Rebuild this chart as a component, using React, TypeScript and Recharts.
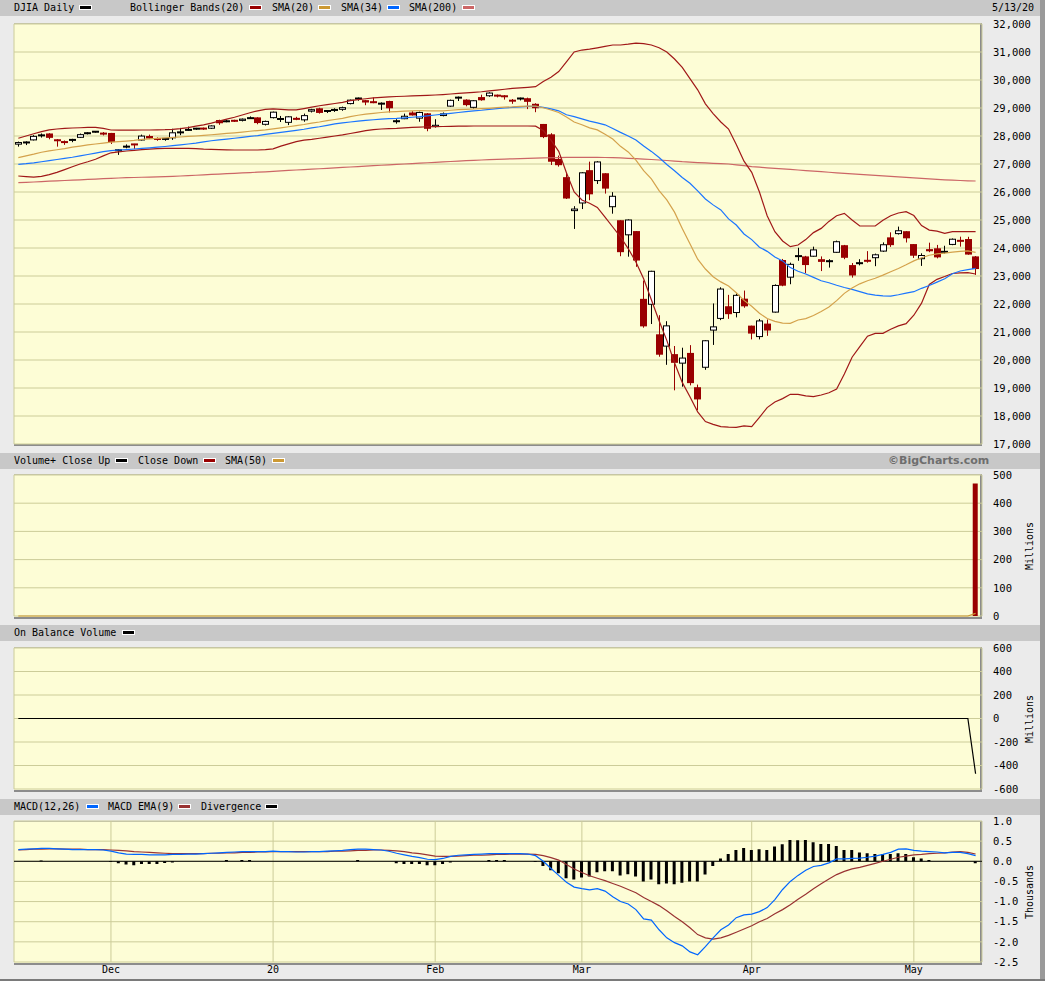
import React from "react";
import { ComposedChart, Bar, Line, XAxis, YAxis, CartesianGrid, ReferenceLine } from "recharts";

// DJIA daily, 11/13/19 .. 5/13/20 (index 0..124)
const opens = [
  27691, 27757, 27843, 28010, 28090, 27875, 27800, 27845, 27935, 28077,
  28140, 28120, 28109, 27480, 27590, 27720, 27840, 28000, 27905, 27880,
  27918, 28125, 28200, 28255, 28290, 28260, 28570, 28500, 28570, 28540,
  28630, 28665, 28400, 28638, 28580, 28470, 28640, 28560, 28870, 28990,
  28880, 28920, 28935, 29140, 29330, 29280, 29230, 29150, 29250, 28520,
  28600, 28840, 28620, 28810, 28320, 28713, 29049, 29360, 29300, 29006,
  29390, 29420, 29460, 29440, 29290, 29330, 29350, 29150, 28430, 28060,
  27180, 26530, 25317, 25590, 26780, 26390, 26670, 25457, 24992, 24453,
  24604, 22184, 21973, 20918, 20478, 20210, 19870, 20253, 19028, 19723,
  21050, 21468, 21920, 21678, 22190, 21227, 20819, 21300, 21693, 23571,
  22941, 23700, 23700, 23689, 23600, 23520, 23829, 24100, 23390, 23440,
  23570, 23636, 23872, 24380, 24496, 24600, 24140, 23600, 23960, 23990,
  23850, 24110, 24290, 24320, 23700,
];
const highs = [
  27800, 27810, 28030, 28090, 28100, 27890, 27840, 27900, 28088, 28134,
  28175, 28140, 28110, 27530, 27700, 27720, 28050, 28050, 27950, 27930,
  28260, 28290, 28337, 28290, 28300, 28380, 28582, 28580, 28580, 28625,
  28700, 28670, 28550, 28872, 28716, 28708, 28685, 28800, 28970, 29010,
  28910, 28990, 29050, 29300, 29374, 29290, 29375, 29200, 29260, 28600,
  28800, 28890, 28870, 28820, 28600, 28840, 29300, 29408, 29310, 29280,
  29475, 29560, 29480, 29460, 29320, 29370, 29370, 29170, 28430, 28100,
  27300, 26700, 25494, 26706, 27084, 27102, 26671, 25994, 24992, 25020,
  24604, 22837, 23186, 21600, 21386, 20500, 20439, 20531, 19122, 20710,
  22019, 22596, 22327, 22378, 22480, 21227, 21466, 21447, 22702, 23609,
  23477, 24009, 23719, 24048, 23700, 23600, 24265, 24110, 23463, 23600,
  23888, 23800, 24200, 24560, 24764, 24600, 24140, 23810, 24190, 24110,
  24080, 24340, 24404, 24400, 23714,
];
const lows = [
  27620, 27676, 27840, 27944, 27882, 27620, 27683, 27778, 27930, 28056,
  28121, 28020, 27715, 27325, 27560, 27540, 27840, 27890, 27830, 27830,
  27860, 28030, 28190, 28220, 28220, 28250, 28400, 28490, 28500, 28520,
  28610, 28420, 28376, 28627, 28500, 28390, 28565, 28510, 28840, 28800,
  28820, 28860, 28900, 29130, 29260, 29100, 29170, 28930, 28840, 28440,
  28600, 28730, 28510, 28170, 28300, 28700, 29040, 29250, 29060, 28980,
  29260, 29400, 29380, 29300, 29150, 29270, 28960, 28850, 27924, 26964,
  26906, 25750, 24681, 25391, 25706, 26286, 25943, 25226, 23706, 23690,
  23328, 21154, 21285, 20117, 19828, 18917, 19046, 19094, 18214, 19650,
  20538, 21424, 21469, 21522, 21866, 20736, 20736, 20863, 21693, 22634,
  22706, 23544, 23099, 23689, 23176, 23300, 23829, 23600, 22942, 23380,
  23476, 23351, 23860, 24040, 24480, 24196, 23645, 23361, 23850, 23630,
  23800, 24100, 24048, 23760, 23039,
];
const closes = [
  27784, 27782, 28005, 28036, 27934, 27821, 27766, 27876, 28066, 28122,
  28164, 28051, 27783, 27503, 27650, 27678, 28015, 27910, 27882, 27911,
  28132, 28135, 28236, 28267, 28239, 28377, 28455, 28552, 28515, 28621,
  28645, 28462, 28538, 28869, 28635, 28703, 28584, 28745, 28957, 28824,
  28907, 28940, 29030, 29298, 29348, 29196, 29186, 29160, 28990, 28536,
  28723, 28734, 28859, 28256, 28400, 28808, 29291, 29380, 29103, 29277,
  29276, 29551, 29423, 29398, 29232, 29348, 29220, 28992, 27961, 27081,
  26958, 25767, 25409, 26703, 25917, 27091, 26121, 25865, 23851, 25018,
  23553, 21201, 23186, 20189, 21237, 19899, 20087, 19174, 18592, 20705,
  21201, 22552, 21637, 22327, 21917, 20944, 21413, 21053, 22680, 22654,
  23434, 23719, 23391, 23950, 23504, 23538, 24242, 23650, 23019, 23476,
  23515, 23775, 24134, 24102, 24634, 24346, 23724, 23750, 23883, 23665,
  23876, 24331, 24222, 23765, 23248,
];

const bbUpper = [
  27918, 28000, 28080, 28155, 28220, 28250, 28270, 28285, 28295, 28305,
  28310, 28270, 28214, 28210, 28210, 28212, 28214, 28215, 28218, 28225,
  28240, 28265, 28300, 28350, 28400, 28460, 28530, 28600, 28670, 28750,
  28830, 28900, 28950, 28970, 28950, 28930, 28930, 28980, 29030, 29080,
  29120, 29160, 29200, 29262, 29300, 29330, 29360, 29380, 29400, 29410,
  29420, 29430, 29440, 29450, 29464, 29480, 29500, 29520, 29540, 29560,
  29580, 29610, 29640, 29670, 29700, 29720, 29740, 29762, 29950, 30100,
  30300, 30650, 31000, 31070, 31100, 31150, 31200, 31250, 31250, 31280,
  31320, 31300, 31250, 31150, 31000, 30750, 30450, 30050, 29650, 29150,
  28800, 28500, 28250, 27700, 27100, 26700, 26000, 25150, 24583, 24250,
  24048, 24107, 24300, 24550, 24700, 24950, 25150, 25238, 25000, 24790,
  24786, 24786, 24990, 25150, 25250, 25297, 25160, 24800, 24640, 24600,
  24524, 24583, 24583, 24583, 24583,
];
const bbLower = [
  26571, 26550, 26530, 26560, 26620, 26700, 26800, 26900, 27000, 27080,
  27170, 27290, 27400, 27430, 27464, 27490, 27510, 27530, 27550, 27560,
  27560, 27560, 27560, 27550, 27530, 27520, 27510, 27505, 27500, 27500,
  27500, 27500, 27510, 27540, 27640, 27720, 27800, 27850, 27880, 27920,
  27960, 28000, 28040, 28090, 28140, 28190, 28230, 28250, 28265, 28274,
  28290, 28310, 28320, 28330, 28333, 28340, 28345, 28350, 28355, 28357,
  28357, 28357, 28357, 28357, 28357, 28357, 28357, 28350, 28200, 27850,
  27450, 26690, 26000, 25714, 25600, 25450, 25100, 24750, 24400, 23980,
  23500, 22900, 22150, 21400, 20700, 19900, 19200, 18690, 18150, 17800,
  17700, 17620, 17600, 17595, 17650, 17620, 17950, 18300, 18500, 18620,
  18774, 18770, 18720, 18690, 18750, 18830, 18960, 19500, 20100, 20476,
  20850, 20952, 20952, 21100, 21220, 21300, 21600, 22030, 22700, 22880,
  22980, 23090, 23110, 23119, 23071,
];
const sma20 = [
  27226, 27290, 27350, 27420, 27470, 27510, 27550, 27600, 27640, 27680,
  27715, 27745, 27780, 27800, 27820, 27845, 27880, 27900, 27915, 27930,
  27950, 27965, 27985, 28000, 28020, 28045, 28070, 28095, 28115, 28140,
  28170, 28195, 28220, 28254, 28290, 28330, 28370, 28410, 28460, 28500,
  28550, 28590, 28630, 28690, 28740, 28780, 28810, 28840, 28860, 28870,
  28885, 28895, 28910, 28900, 28895, 28900, 28920, 28940, 28950, 28965,
  28975, 28990, 29010, 29030, 29040, 29060, 29070, 29070, 29010, 28930,
  28840, 28680, 28500, 28400, 28290, 28219, 28060, 27890, 27630, 27430,
  27140, 26760, 26470, 26050, 25720, 25280, 24700, 24150, 23600, 23250,
  22976, 22790, 22640, 22400, 22130, 21920, 21670, 21480, 21380, 21320,
  21310, 21430, 21480, 21590, 21730, 21890, 22120, 22380, 22570, 22720,
  22830, 22920, 23030, 23150, 23270, 23400, 23540, 23650, 23740, 23790,
  23820, 23850, 23880, 23900, 23845,
];
const sma34 = [
  26988, 27010, 27040, 27080, 27120, 27160, 27200, 27240, 27290, 27340,
  27390, 27440, 27480, 27500, 27515, 27535, 27555, 27575, 27600, 27625,
  27655, 27685, 27715, 27745, 27790, 27830, 27860, 27890, 27920, 27950,
  27985, 28015, 28055, 28095, 28130, 28165, 28200, 28240, 28290, 28330,
  28380, 28430, 28470, 28500, 28530, 28555, 28580, 28600, 28620, 28631,
  28650, 28670, 28690, 28720, 28750, 28780, 28810, 28840, 28870, 28900,
  28920, 28950, 28980, 29000, 29020, 29040, 29060, 29060, 29020, 28970,
  28900, 28760, 28690, 28610, 28530, 28470, 28400, 28270, 28130, 28000,
  27860, 27640, 27450, 27230, 26980, 26760, 26520, 26310, 26040, 25750,
  25540, 25360, 25040, 24820, 24500, 24300, 24030, 23880, 23680, 23540,
  23300, 23170, 23070, 22950, 22830, 22760, 22670, 22590, 22520, 22440,
  22360, 22320, 22290, 22280, 22330, 22390, 22440, 22560, 22660, 22780,
  22900, 23080, 23180, 23230, 23274,
];
const sma200 = [
  26333, 26345, 26358, 26372, 26385, 26398, 26410, 26423, 26436, 26450,
  26462, 26475, 26488, 26500, 26510, 26518, 26526, 26534, 26542, 26550,
  26560, 26572, 26585, 26598, 26612, 26626, 26640, 26653, 26667, 26680,
  26694, 26708, 26722, 26740, 26755, 26770, 26786, 26800, 26815, 26830,
  26845, 26860, 26876, 26892, 26908, 26924, 26940, 26955, 26970, 26985,
  27000, 27015, 27030, 27045, 27060, 27075, 27090, 27105, 27118, 27130,
  27142, 27154, 27165, 27176, 27186, 27195, 27202, 27210, 27218, 27224,
  27230, 27234, 27237, 27238, 27238, 27236, 27232, 27226, 27218, 27202,
  27190, 27176, 27160, 27143, 27125, 27105, 27083, 27068, 27052, 27038,
  27025, 27012, 27000, 26970, 26940, 26905, 26885, 26865, 26845, 26825,
  26805, 26785, 26765, 26745, 26725, 26705, 26686, 26668, 26650, 26632,
  26614, 26596, 26578, 26560, 26542, 26524, 26506, 26488, 26470, 26452,
  26436, 26422, 26410, 26400, 26393,
];

// volume panels, millions
const volume = [
  0, 0, 0, 0, 0, 0, 0, 0, 0, 0, 0, 0, 0, 0, 0, 0, 0, 0, 0, 0,
  0, 0, 0, 0, 0, 0, 0, 0, 0, 0, 0, 0, 0, 0, 0, 0, 0, 0, 0, 0,
  0, 0, 0, 0, 0, 0, 0, 0, 0, 0, 0, 0, 0, 0, 0, 0, 0, 0, 0, 0,
  0, 0, 0, 0, 0, 0, 0, 0, 0, 0, 0, 0, 0, 0, 0, 0, 0, 0, 0, 0,
  0, 0, 0, 0, 0, 0, 0, 0, 0, 0, 0, 0, 0, 0, 0, 0, 0, 0, 0, 0,
  0, 0, 0, 0, 0, 0, 0, 0, 0, 0, 0, 0, 0, 0, 0, 0, 0, 0, 0, 0,
  0, 0, 0, 0, 470,
];
const volSma50 = [
  0, 0, 0, 0, 0, 0, 0, 0, 0, 0, 0, 0, 0, 0, 0, 0, 0, 0, 0, 0,
  0, 0, 0, 0, 0, 0, 0, 0, 0, 0, 0, 0, 0, 0, 0, 0, 0, 0, 0, 0,
  0, 0, 0, 0, 0, 0, 0, 0, 0, 0, 0, 0, 0, 0, 0, 0, 0, 0, 0, 0,
  0, 0, 0, 0, 0, 0, 0, 0, 0, 0, 0, 0, 0, 0, 0, 0, 0, 0, 0, 0,
  0, 0, 0, 0, 0, 0, 0, 0, 0, 0, 0, 0, 0, 0, 0, 0, 0, 0, 0, 0,
  0, 0, 0, 0, 0, 0, 0, 0, 0, 0, 0, 0, 0, 0, 0, 0, 0, 0, 0, 0,
  0, 0, 0, 0, 9.4,
];
const obv = [
  0, 0, 0, 0, 0, 0, 0, 0, 0, 0, 0, 0, 0, 0, 0, 0, 0, 0, 0, 0,
  0, 0, 0, 0, 0, 0, 0, 0, 0, 0, 0, 0, 0, 0, 0, 0, 0, 0, 0, 0,
  0, 0, 0, 0, 0, 0, 0, 0, 0, 0, 0, 0, 0, 0, 0, 0, 0, 0, 0, 0,
  0, 0, 0, 0, 0, 0, 0, 0, 0, 0, 0, 0, 0, 0, 0, 0, 0, 0, 0, 0,
  0, 0, 0, 0, 0, 0, 0, 0, 0, 0, 0, 0, 0, 0, 0, 0, 0, 0, 0, 0,
  0, 0, 0, 0, 0, 0, 0, 0, 0, 0, 0, 0, 0, 0, 0, 0, 0, 0, 0, 0,
  0, 0, 0, 0, -470,
];

// MACD, thousands
const macd = [
  0.29, 0.30, 0.31, 0.32, 0.32, 0.31, 0.30, 0.29, 0.29, 0.29,
  0.29, 0.28, 0.25, 0.21, 0.18, 0.17, 0.17, 0.16, 0.16, 0.16,
  0.17, 0.17, 0.18, 0.18, 0.19, 0.20, 0.21, 0.22, 0.23, 0.24,
  0.24, 0.24, 0.24, 0.25, 0.24, 0.24, 0.23, 0.23, 0.24, 0.24,
  0.25, 0.26, 0.27, 0.29, 0.30, 0.30, 0.29, 0.28, 0.25, 0.20,
  0.16, 0.12, 0.09, 0.05, 0.04, 0.07, 0.12, 0.15, 0.16, 0.17,
  0.18, 0.19, 0.19, 0.19, 0.19, 0.19, 0.18, 0.14, 0.00, -0.18,
  -0.35, -0.52, -0.64, -0.68, -0.71, -0.68, -0.74, -0.88, -1.00, -1.06,
  -1.20, -1.43, -1.46, -1.70, -1.90, -2.02, -2.10, -2.25, -2.32, -2.12,
  -1.90, -1.70, -1.58, -1.40, -1.33, -1.31, -1.25, -1.15, -0.95, -0.70,
  -0.50, -0.35, -0.22, -0.13, -0.10, -0.04, 0.06, 0.06, 0.07, 0.08,
  0.10, 0.13, 0.17, 0.22, 0.30, 0.31, 0.27, 0.25, 0.24, 0.23,
  0.21, 0.22, 0.22, 0.19, 0.14,
];
const macdSignal = [
  0.28, 0.29, 0.30, 0.30, 0.31, 0.31, 0.30, 0.30, 0.30, 0.29,
  0.29, 0.29, 0.28, 0.27, 0.26, 0.24, 0.23, 0.22, 0.21, 0.20,
  0.19, 0.19, 0.19, 0.19, 0.19, 0.20, 0.20, 0.21, 0.21, 0.22,
  0.22, 0.23, 0.23, 0.24, 0.24, 0.24, 0.24, 0.24, 0.24, 0.24,
  0.24, 0.25, 0.25, 0.26, 0.27, 0.27, 0.28, 0.28, 0.27, 0.26,
  0.24, 0.21, 0.19, 0.16, 0.13, 0.12, 0.12, 0.13, 0.14, 0.15,
  0.15, 0.16, 0.17, 0.17, 0.18, 0.18, 0.18, 0.17, 0.14, 0.09,
  0.03, -0.08, -0.19, -0.28, -0.36, -0.42, -0.48, -0.55, -0.62, -0.70,
  -0.78, -0.90, -1.00, -1.10, -1.23, -1.37, -1.50, -1.65, -1.82, -1.90,
  -1.93, -1.90, -1.84, -1.76, -1.68, -1.60, -1.50, -1.42, -1.30, -1.20,
  -1.08, -0.94, -0.82, -0.68, -0.56, -0.44, -0.33, -0.25, -0.19, -0.15,
  -0.10, -0.05, 0.00, 0.05, 0.10, 0.13, 0.16, 0.17, 0.19, 0.20,
  0.21, 0.23, 0.24, 0.22, 0.18,
];
const macdDivergence = [
  0, 0, 0, 0.02, 0, 0, 0, 0, 0, 0,
  0, 0, -0.02, -0.05, -0.08, -0.1, -0.07, -0.07, -0.07, -0.04,
  -0.03, 0, 0, 0, 0, 0, 0, 0.03, 0, 0.03,
  0.03, 0, 0, 0, 0, 0, 0, 0, 0, 0,
  0, 0, 0, 0, 0.03, 0, 0, 0, 0, -0.05,
  -0.07, -0.07, -0.07, -0.1, -0.1, -0.07, -0.03, 0, 0, 0,
  0, 0.03, 0.03, 0.03, 0, 0, 0, -0.02, -0.12, -0.22,
  -0.3, -0.42, -0.45, -0.4, -0.38, -0.27, -0.25, -0.25, -0.35, -0.32,
  -0.38, -0.5, -0.45, -0.57, -0.55, -0.57, -0.53, -0.5, -0.5, -0.33,
  -0.12, 0.07, 0.18, 0.28, 0.33, 0.28, 0.3, 0.28, 0.37, 0.42,
  0.53, 0.52, 0.53, 0.47, 0.43, 0.43, 0.38, 0.28, 0.28, 0.22,
  0.2, 0.18, 0.18, 0.18, 0.2, 0.18, 0.1, 0.07, 0.03, 0,
  0, 0, 0, 0, -0.05,
];

const monthTicks = [12, 33, 54, 73, 95, 116];
const monthLabels = ["Dec", "20", "Feb", "Mar", "Apr", "May"];
const priceTicks = [17000, 18000, 19000, 20000, 21000, 22000, 23000, 24000, 25000, 26000, 27000, 28000, 29000, 30000, 31000, 32000];
const volumeTicks = [0, 100, 200, 300, 400, 500];
const obvTicks = [-600, -400, -200, 0, 200, 400, 600];
const macdTicks = [-2.5, -2, -1.5, -1, -0.5, 0, 0.5, 1];

const data = closes.map((close, i) => ({
  i,
  open: opens[i],
  high: highs[i],
  low: lows[i],
  close,
  bbUpper: bbUpper[i],
  bbLower: bbLower[i],
  sma20: sma20[i],
  sma34: sma34[i],
  sma200: sma200[i],
  volume: volume[i],
  volSma50: volSma50[i],
  obv: obv[i],
  macd: macd[i],
  signal: macdSignal[i],
  divergence: macdDivergence[i],
}));

const MONO = '"DejaVu Sans Mono", "Liberation Mono", monospace';
const PLOT_BG = "#fdfdd6";
const GRID = "#cccc99";
const DOWN = "#990000";
const X_DOMAIN = [-0.56, 124.83];
const W = 1045;
const tickStyle = { fontSize: 10.5, fill: "#000", fontFamily: MONO };

function Candle(props: any) {
  const { x, y, width, height, payload } = props;
  if (!payload || height == null) return null;
  const top = Math.min(y, y + height);
  const h = Math.abs(height);
  const { open, close, high, low } = payload;
  const span = high - low || 1;
  const yOf = (v: number) => top + ((high - v) / span) * h;
  const cx = Math.round(x + width / 2);
  const up = close >= open;
  const color = up ? "#000" : DOWN;
  const bTop = yOf(Math.max(open, close));
  const bBot = yOf(Math.min(open, close));
  let body;
  if (bBot - bTop < 2) {
    body = <rect x={cx - 3} y={(bTop + bBot) / 2 - 1} width={7} height={2} fill={color} />;
  } else if (up) {
    body = <rect x={cx - 2.5} y={bTop + 0.5} width={6} height={bBot - bTop - 1} fill="#fff" stroke="#000" strokeWidth={1} />;
  } else {
    body = <rect x={cx - 3} y={bTop} width={7} height={bBot - bTop} fill={DOWN} />;
  }
  return (
    <g>
      <line x1={cx + 0.5} x2={cx + 0.5} y1={top} y2={top + h} stroke={color} strokeWidth={1} />
      {body}
    </g>
  );
}

function Panel({ top, height, children }: { top: number; height: number; children: React.ReactNode }) {
  return (
    <div
      style={{
        position: "absolute",
        left: 14,
        top,
        width: 968,
        height,
        background: PLOT_BG,
        borderTop: "1px solid #c0c0b0",
        borderRight: "2px solid #8c8c8c",
        borderBottom: "2px solid #8c8c8c",
        boxSizing: "border-box",
      }}
    >
      {children}
    </div>
  );
}

function HeaderBar({ top, children }: { top: number; children: React.ReactNode }) {
  return (
    <div style={{ position: "absolute", left: 0, top, width: 1040, height: 16, background: "#c8c8c8" }}>
      {children}
    </div>
  );
}

function Txt({ left, children, style }: { left: number; children: React.ReactNode; style?: React.CSSProperties }) {
  return (
    <span style={{ position: "absolute", left, top: 0, lineHeight: "16px", fontSize: 10, fontFamily: MONO, color: "#000", whiteSpace: "pre", ...style }}>
      {children}
    </span>
  );
}

function Swatch({ left, color }: { left: number; color: string }) {
  return <span style={{ position: "absolute", left, top: 5, width: 11, height: 3, background: color, border: "1px solid #fff" }} />;
}

function SideLabel({ top, children }: { top: number; children: React.ReactNode }) {
  return (
    <div
      style={{
        position: "absolute",
        left: 1029,
        top,
        transform: "translate(-50%, -50%) rotate(-90deg)",
        fontSize: 10,
        fontFamily: MONO,
        whiteSpace: "nowrap",
        color: "#000",
      }}
    >
      {children}
    </div>
  );
}

function hiddenX() {
  return (
    <XAxis
      dataKey="i"
      type="number"
      domain={X_DOMAIN}
      allowDataOverflow
      ticks={monthTicks}
      interval={0}
      height={0}
      tick={false}
      axisLine={false}
      tickLine={false}
    />
  );
}

export default function App() {
  return (
    <div style={{ position: "absolute", left: 0, top: 0, width: W, height: 981, background: "#ebebeb", overflow: "hidden" }}>
      <div style={{ position: "absolute", left: 1040, top: 0, width: 5, height: 981, background: "#9a9a9a" }} />
      <div style={{ position: "absolute", left: 0, top: 979, width: W, height: 2, background: "#7a7a7a" }} />

      <HeaderBar top={0}>
        <Txt left={14}>DJIA Daily</Txt>
        <Swatch left={79} color="#000" />
        <Txt left={130}>Bollinger Bands(20)</Txt>
        <Swatch left={249} color="#990000" />
        <Txt left={272}>SMA(20)</Txt>
        <Swatch left={318} color="#cc9933" />
        <Txt left={341}>SMA(34)</Txt>
        <Swatch left={387} color="#0066ff" />
        <Txt left={409}>SMA(200)</Txt>
        <Swatch left={462} color="#cc6666" />
        <Txt left={992}>5/13/20</Txt>
      </HeaderBar>

      <HeaderBar top={453}>
        <Txt left={14}>Volume+ Close Up</Txt>
        <Swatch left={115} color="#000" />
        <Txt left={138}>Close Down</Txt>
        <Swatch left={203} color="#990000" />
        <Txt left={225}>SMA(50)</Txt>
        <Swatch left={272} color="#cc9933" />
        <Txt left={888} style={{ fontFamily: '"DejaVu Sans", sans-serif', fontWeight: "bold", fontSize: 11, color: "#6e6e6e" }}>
          ©BigCharts.com
        </Txt>
      </HeaderBar>

      <HeaderBar top={625}>
        <Txt left={14}>On Balance Volume</Txt>
        <Swatch left={122} color="#000" />
      </HeaderBar>

      <HeaderBar top={799}>
        <Txt left={14}>MACD(12,26)</Txt>
        <Swatch left={86} color="#0066ff" />
        <Txt left={108}>MACD EMA(9)</Txt>
        <Swatch left={178} color="#993333" />
        <Txt left={201}>Divergence</Txt>
        <Swatch left={265} color="#000" />
      </HeaderBar>

      <Panel top={23} height={423} />
      <Panel top={474} height={145} />
      <Panel top={647} height={145} />
      <Panel top={821} height={144} />

      <SideLabel top={546}>Millions</SideLabel>
      <SideLabel top={719}>Millions</SideLabel>
      <SideLabel top={892}>Thousands</SideLabel>

      {/* price */}
      <div style={{ position: "absolute", left: 0, top: 14 }}>
        <ComposedChart width={W} height={440} data={data} margin={{ top: 10, right: 0, bottom: 10, left: 14 }}>
          <CartesianGrid stroke={GRID} strokeWidth={1} />
          {hiddenX()}
          <YAxis
            orientation="right"
            width={63}
            domain={[17000, 32000]}
            ticks={priceTicks}
            interval={0}
            allowDataOverflow
            tickFormatter={(v: number) => v.toLocaleString("en-US")}
            tick={tickStyle}
            tickSize={0}
            tickMargin={11}
            axisLine={false}
            tickLine={false}
          />
          <Line dataKey="sma200" stroke="#cc6666" strokeWidth={1.2} dot={false} isAnimationActive={false} />
          <Line dataKey="bbUpper" stroke="#a01818" strokeWidth={1.2} dot={false} isAnimationActive={false} />
          <Line dataKey="bbLower" stroke="#a01818" strokeWidth={1.2} dot={false} isAnimationActive={false} />
          <Line dataKey="sma34" stroke="#1a75ff" strokeWidth={1.2} dot={false} isAnimationActive={false} />
          <Line dataKey="sma20" stroke="#d4a24c" strokeWidth={1.2} dot={false} isAnimationActive={false} />
          <Bar dataKey={(d: any) => [d.low, d.high]} barSize={7} shape={<Candle />} isAnimationActive={false} />
        </ComposedChart>
      </div>

      {/* volume */}
      <div style={{ position: "absolute", left: 0, top: 465 }}>
        <ComposedChart width={W} height={161} data={data} margin={{ top: 10, right: 0, bottom: 10, left: 14 }}>
          <CartesianGrid stroke={GRID} strokeWidth={1} />
          {hiddenX()}
          <YAxis
            orientation="right"
            width={63}
            domain={[0, 500]}
            ticks={volumeTicks}
            interval={0}
            tick={tickStyle}
            tickSize={0}
            tickMargin={11}
            axisLine={false}
            tickLine={false}
          />
          <Bar dataKey="volume" fill={DOWN} barSize={5} isAnimationActive={false} />
          <Line dataKey="volSma50" stroke="#cc9933" strokeWidth={1.2} dot={false} isAnimationActive={false} />
        </ComposedChart>
      </div>

      {/* on balance volume */}
      <div style={{ position: "absolute", left: 0, top: 638 }}>
        <ComposedChart width={W} height={161} data={data} margin={{ top: 10, right: 0, bottom: 10, left: 14 }}>
          <CartesianGrid stroke={GRID} strokeWidth={1} />
          {hiddenX()}
          <YAxis
            orientation="right"
            width={63}
            domain={[-600, 600]}
            ticks={obvTicks}
            interval={0}
            tick={tickStyle}
            tickSize={0}
            tickMargin={11}
            axisLine={false}
            tickLine={false}
          />
          <Line dataKey="obv" stroke="#000" strokeWidth={1.2} dot={false} isAnimationActive={false} />
        </ComposedChart>
      </div>

      {/* MACD */}
      <div style={{ position: "absolute", left: 0, top: 811 }}>
        <ComposedChart width={W} height={170} data={data} margin={{ top: 10, right: 0, bottom: 0, left: 14 }}>
          <CartesianGrid stroke={GRID} strokeWidth={1} />
          <XAxis
            dataKey="i"
            type="number"
            domain={X_DOMAIN}
            allowDataOverflow
            ticks={monthTicks}
            interval={0}
            height={19}
            tickFormatter={(v: number) => monthLabels[monthTicks.indexOf(v)] ?? ""}
            tick={{ fontSize: 10, fill: "#000", fontFamily: MONO }}
            tickSize={0}
            tickMargin={4}
            axisLine={false}
            tickLine={false}
          />
          <YAxis
            orientation="right"
            width={63}
            domain={[-2.5, 1]}
            ticks={macdTicks}
            interval={0}
            tickFormatter={(v: number) => v.toFixed(1)}
            tick={tickStyle}
            tickSize={0}
            tickMargin={11}
            axisLine={false}
            tickLine={false}
          />
          <ReferenceLine y={0} stroke="#000" strokeWidth={1} />
          <Bar dataKey="divergence" fill="#000" barSize={3} isAnimationActive={false} />
          <Line dataKey="signal" stroke="#993333" strokeWidth={1.2} dot={false} isAnimationActive={false} />
          <Line dataKey="macd" stroke="#0066ff" strokeWidth={1.2} dot={false} isAnimationActive={false} />
        </ComposedChart>
      </div>
    </div>
  );
}
